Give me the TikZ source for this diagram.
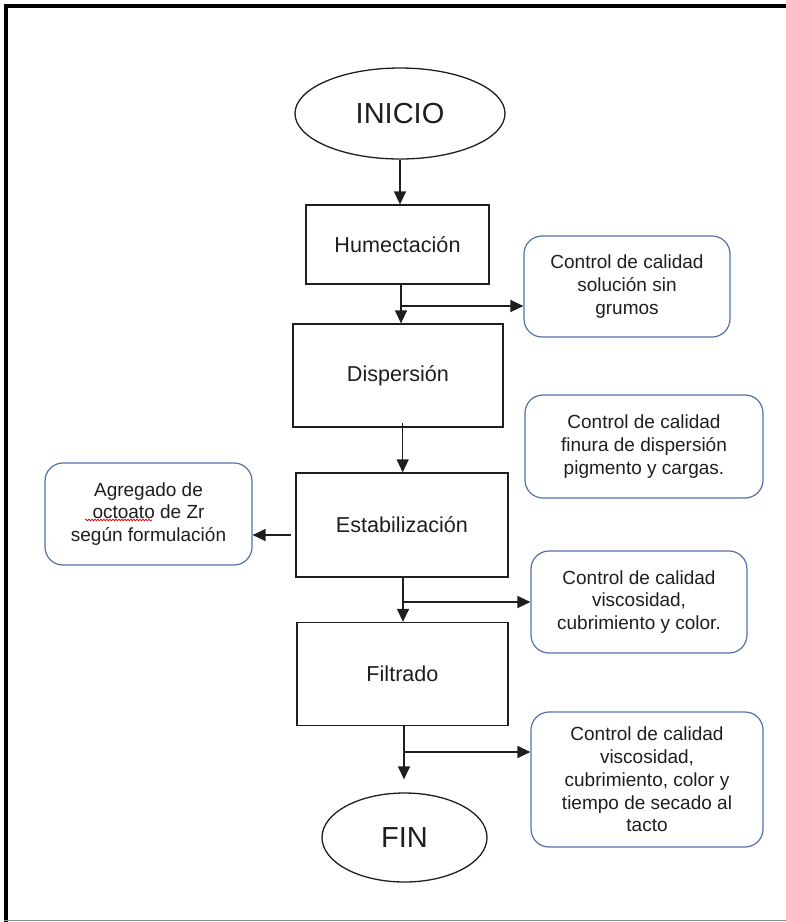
\documentclass[tikz,border=0pt]{standalone}
\usepackage{fontspec}
\setmainfont{Liberation Sans}
\usetikzlibrary{shapes.geometric,arrows.meta,decorations.pathmorphing}
\definecolor{ink}{RGB}{30,30,30}
\definecolor{roundedge}{RGB}{84,112,168}
\begin{document}
\begin{tikzpicture}[x=1pt,y=-1pt,
  every node/.style={text=ink},
  stepbox/.style={draw=ink,line width=1.3pt,rectangle,inner sep=0pt,font=\fontsize{21.6}{25}\selectfont},
  qcbox/.style={draw=roundedge,line width=1.2pt,rounded corners=18pt,inner sep=0pt,align=center,font=\fontsize{19}{22.8}\selectfont},
  terminal/.style={draw=ink,line width=1.3pt,ellipse,inner sep=0pt,font=\fontsize{29}{33}\selectfont},
  arr/.style={draw=ink,line width=1.3pt,-{Triangle[length=13pt,width=12pt]}},
  plain/.style={draw=ink,line width=1.3pt}]
\useasboundingbox (0,0) rectangle (786,922);
% page frame
\draw[line width=4pt,black] (6,922) -- (6,5.5) -- (786,5.5);
\draw[line width=1.5pt,black!45] (4,920.5) -- (786,920.5);

% process column
\node[terminal,minimum width=210pt,minimum height=91pt] (inicio) at (400,113.5) {INICIO};
\node[stepbox,minimum width=183pt,minimum height=79pt] (humect) at (397.5,244.5) {Humectación};
\node[stepbox,minimum width=210pt,minimum height=103pt] (disp) at (398,375.5) {Dispersión};
\node[stepbox,minimum width=212pt,minimum height=104pt] (estab) at (402,525) {Estabilización};
\node[stepbox,minimum width=211pt,minimum height=103pt] (filt) at (402.5,674) {Filtrado};
\node[terminal,minimum width=165pt,minimum height=89pt] (fin) at (404.5,837.5) {FIN};

% side boxes
\node[qcbox,minimum width=206pt,minimum height=101pt] (ctrlA) at (627,286.5)
  {Control de calidad\\solución sin\\grumos};
\node[qcbox,minimum width=238pt,minimum height=103pt] (ctrlB) at (644,446.5)
  {Control de calidad\\finura de dispersión\\pigmento y cargas.};
\node[qcbox,minimum width=207pt,minimum height=102pt] (agreg) at (148.5,514)
  {Agregado de\\octoato de Zr\\según formulación};
\node[qcbox,minimum width=216pt,minimum height=102pt] (ctrlC) at (639,602)
  {Control de calidad\\viscosidad,\\cubrimiento y color.};
\node[qcbox,minimum width=232pt,minimum height=135pt] (ctrlD) at (647,779.5)
  {Control de calidad\\viscosidad,\\cubrimiento, color y\\tiempo de secado al\\tacto};

% spell-check squiggle under "octoato"
\draw[red!85!black,line width=0.7pt,decorate,decoration={snake,amplitude=0.9pt,segment length=3pt}]
  (85,520) -- (152,520);

% connectors
\draw[arr] (inicio.south) -- (inicio.south |- humect.north);

\coordinate (ja) at (401,306);
\draw[plain] (ja |- humect.south) -- (ja);
\draw[arr] (ja) -- (ja |- disp.north);
\draw[arr] (ja) -- (ja -| ctrlA.west);

\coordinate (jb) at (402.7,423);
\draw[arr] (jb) -- (jb |- estab.north);

\coordinate (jc) at (291,535);
\draw[arr] (jc) -- (jc -| agreg.east);

\coordinate (jd) at (403,602);
\draw[plain] (jd |- estab.south) -- (jd);
\draw[arr] (jd) -- (jd |- filt.north);
\draw[arr] (jd) -- (jd -| ctrlC.west);

\coordinate (je) at (404,752);
\draw[plain] (je |- filt.south) -- (je);
\draw[arr,shorten >=13pt] (je) -- (je |- fin.north);
\draw[arr] (je) -- (je -| ctrlD.west);
\end{tikzpicture}
\end{document}
